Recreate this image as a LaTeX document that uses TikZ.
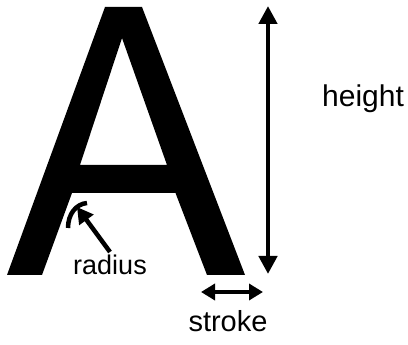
\documentclass[tikz,border=0pt]{standalone}
\usepackage{fontspec}
\setmainfont{Liberation Sans}
\usetikzlibrary{arrows.meta}
\begin{document}
\begin{tikzpicture}[x=1pt,y=-1pt,
  glyph/.style={fill=black,draw=none},
  dimarrow/.style={line width=4.5pt,{Triangle[length=18pt,width=18pt]}-{Triangle[length=18pt,width=18pt]}},
  strokearrow/.style={line width=3.5pt,{Triangle[length=14pt,width=16pt]}-{Triangle[length=14pt,width=16pt]}},
  radarrow/.style={line width=4.5pt,-{Triangle[length=16pt,width=17pt]}},
  lbl/.style={anchor=base,inner sep=0pt}]
\useasboundingbox (0,0) rectangle (408,345);
% letter A
\fill[glyph,even odd rule]
  (105,7) -- (142,7) -- (245,275) -- (207,275) -- (175.5,193) -- (72,193) -- (42,275) -- (7,275) -- cycle
  (122,38) -- (167,165) -- (80,165) -- cycle;
% radius arc
\draw[line width=4.5pt] (68,228) .. controls (68,214) and (76,204) .. (87,203);
% labels
\node[lbl,font=\fontsize{27}{32}\selectfont] (radius) at (110,275) {radius};
\node[lbl,anchor=base west,font=\fontsize{30}{36}\selectfont] (height) at (322,107) {height};
\node[lbl,font=\fontsize{29}{35}\selectfont] (stroke) at (228,332) {stroke};
% arrows
\coordinate (radtail) at (110,252);
\coordinate (radtip) at (77,207);
\draw[radarrow] (radtail) -- (radtip);
\coordinate (htop) at (268,6);
\coordinate (hbot) at (268,274);
\draw[dimarrow] (htop) -- (hbot);
\coordinate (sl) at (201,292);
\coordinate (sr) at (263,292);
\draw[strokearrow] (sl) -- (sr);
\end{tikzpicture}
\end{document}
